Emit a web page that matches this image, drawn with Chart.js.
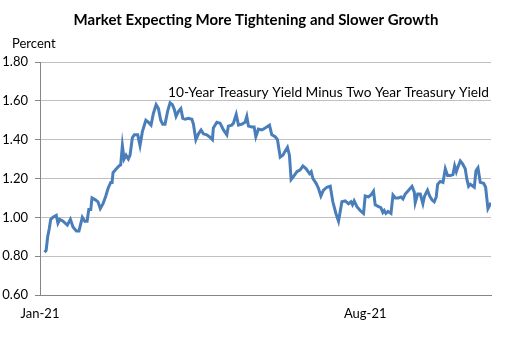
<!DOCTYPE html>
<html><head><meta charset="utf-8">
<script src="https://cdn.jsdelivr.net/npm/chart.js@4.4.1/dist/chart.umd.min.js"></script>
<style>html,body{margin:0;padding:0;background:#fff;}#wrap{width:513px;height:350px;position:relative;}</style>
</head><body><div id="wrap"><canvas id="c" width="513" height="350"></canvas></div>
<script>
const chartTitle = "Market Expecting More Tightening and Slower Growth";
const yAxisTitle = "Percent";
const seriesLabel = "10-Year Treasury Yield Minus Two Year Treasury Yield";
// days since 1 Jan 2021
const days = [
 3,4,5,6,7,8.5,10.6,11.7,12.9,15,
 17.8,19.8,21.5,23.7,25.4,27.6,29.2,30.7,31.8,33.1,
 33.9,36.1,37.8,39.3,41.1,42.9,44.4,46.1,47,47.6,
 49.8,51.5,
 52.6,53.7,54.8,56.1,57.6,58.7,60.2,61.5,63.7,65.2,
 66.7,69,70.6,72.4,73.9,75.7,77.2,78.7,80,81.5,
 83.3,84.8,86.3,87.6,88.7,90.2,91.8,93.1,94.6,96.7,
 99,100,101.6,103.3,105,106.5,108.7,110.4,112.4,113,
 115.3,117.4,119.6,121.8,122.8,125,126.1,127.9,129.4,131.6,
 133.7,134.8,135.9,138.1,139.6,140.7,142.4,144.6,146.8,149.6,
 151.1,153.3,154.8,156.6,158.3,159.8,161.3,162.6,163.7,165.2,
 167.5,169.6,171.4,173.5,175.7,176.8,177.9,180,181.5,183.1,
 184.8,187,189.2,190.9,192.9,194.6,196.8,199,201.1,202.7,
 203.7,204.8,206.6,208.7,210.9,212,214.2,215.7,217.4,218.5,
 220.7,222.2,223.5,224.4,225.5,226.8,228.8,230.1,231.6,233.7,
 235.3,236.6,238.1,240.3,242.5,244,244.6,246.2,247.9,249.6,
 250.7,252.6,254,255.5,257,258.3,259.2,260.9,262.7,264.2,
 265.7,267.5,269.2,270.3,271.4,272.5,274,275.5,277.2,278.3,
 279.4,280.5,282.3,283.1,284.2,285.5,287,289.2,290.5,292,294
];
const spread = [
 0.82,0.83,0.90,0.94,0.99,1.00,1.01,0.97,0.99,0.98,
 0.96,0.99,0.95,0.93,0.93,1.00,0.98,0.98,1.04,1.04,
 1.10,1.09,1.08,1.045,1.07,1.11,1.15,1.18,1.18,1.23,
 1.25,1.265,
 1.27,1.37,1.30,1.32,1.30,1.32,1.41,1.425,1.425,1.37,
 1.44,1.50,1.49,1.475,1.535,1.58,1.56,1.50,1.48,1.48,
 1.55,1.59,1.58,1.555,1.52,1.545,1.56,1.51,1.505,1.51,
 1.505,1.48,1.40,1.43,1.45,1.43,1.425,1.415,1.40,1.46,
 1.49,1.485,1.45,1.425,1.47,1.475,1.485,1.53,1.475,1.48,
 1.49,1.52,1.47,1.465,1.465,1.415,1.455,1.45,1.46,1.475,
 1.425,1.415,1.40,1.31,1.32,1.34,1.36,1.32,1.195,1.21,
 1.235,1.245,1.265,1.25,1.225,1.235,1.20,1.175,1.15,1.11,
 1.14,1.155,1.16,1.08,1.02,0.98,1.08,1.085,1.07,1.08,
 1.065,1.085,1.055,1.035,1.02,1.11,1.105,1.115,1.135,1.065,
 1.055,1.05,1.025,1.035,1.02,1.03,1.02,1.115,1.10,1.10,
 1.105,1.095,1.12,1.14,1.16,1.13,1.075,1.12,1.12,1.07,
 1.11,1.14,1.11,1.09,1.08,1.105,1.17,1.185,1.18,1.25,
 1.215,1.215,1.22,1.265,1.235,1.26,1.29,1.275,1.25,1.195,
 1.16,1.17,1.16,1.155,1.24,1.255,1.18,1.175,1.155,1.045,1.075
];
const xTickDays = [0, 212];
const xTickLabels = ["Jan-21", "Aug-21"];
const yMin = 0.6, yMax = 1.8, yStep = 0.2;
const xMin = 0, xMax = 294;

const points = days.map((d, i) => ({x: d, y: spread[i]}));

const textPlugin = {
  id: 'texts',
  afterDraw(chart) {
    const ctx = chart.ctx;
    ctx.save();
    ctx.fillStyle = '#000';
    ctx.textBaseline = 'middle';
    ctx.font = 'bold 15px Lato';
    ctx.textAlign = 'center';
    ctx.fillText(chartTitle, 256, 20);
    ctx.font = '13px Lato';
    ctx.textAlign = 'left';
    ctx.fillText(yAxisTitle, 12, 44);
    const xs = chart.scales.x, ys = chart.scales.y;
    ctx.font = '13.7px Lato';
    ctx.fillText(seriesLabel, xs.getPixelForValue(83.5), ys.getPixelForValue(1.641));
    ctx.restore();
  }
};

new Chart(document.getElementById('c'), {
  type: 'line',
  data: { datasets: [{
    label: seriesLabel,
    data: points,
    borderColor: '#4a7ebb',
    borderWidth: 3,
    pointRadius: 0,
    tension: 0,
    fill: false
  }]},
  options: {
    responsive: false,
    animation: false,
    devicePixelRatio: 1,
    layout: { padding: { top: 62, right: 22, left: 0, bottom: 0 } },
    plugins: { legend: { display: false }, title: { display: false }, tooltip: { enabled: false } },
    scales: {
      x: {
        type: 'linear', min: xMin, max: xMax,
        afterBuildTicks(scale) { scale.ticks = xTickDays.map(v => ({value: v})); },
        afterFit(scale) { scale.height = 55; },
        ticks: {
          autoSkip: false, maxRotation: 0, padding: 11,
          color: '#000', font: { family: 'Lato', size: 13 },
          callback(v) { const i = xTickDays.indexOf(v); return i >= 0 ? xTickLabels[i] : ''; }
        },
        grid: { display: false, drawTicks: false },
        border: { display: true, color: '#868686', width: 1 }
      },
      y: {
        min: yMin, max: yMax,
        afterFit(scale) { scale.width = 40; },
        ticks: { stepSize: yStep, padding: 7, color: '#000', font: { family: 'Lato', size: 13 },
          callback(v) { return Number(v).toFixed(2); } },
        grid: { color: '#c0c0c0', lineWidth: 1, tickLength: 5, tickColor: '#868686' },
        border: { display: true, color: '#868686', width: 1 }
      }
    }
  },
  plugins: [textPlugin]
});
</script></body></html>
